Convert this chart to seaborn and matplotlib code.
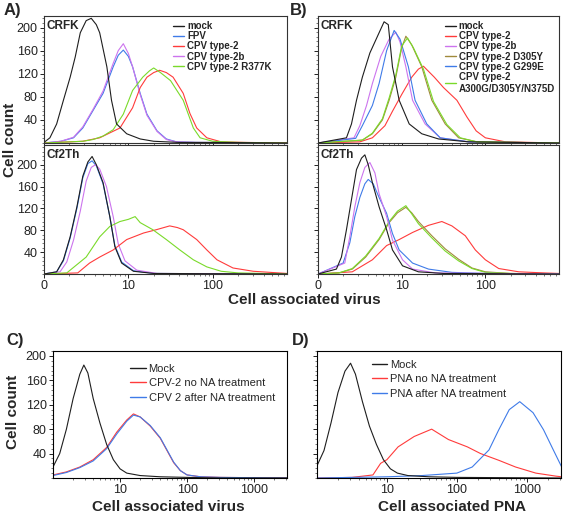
import numpy as np
import pandas as pd
import matplotlib
matplotlib.use("Agg")
import matplotlib.pyplot as plt
from matplotlib.lines import Line2D
from matplotlib.ticker import FixedLocator, NullFormatter, MultipleLocator, LogLocator
from matplotlib import font_manager
import seaborn as sns

sns.set_theme(style="white")
plt.rcParams['font.family'] = ['Liberation Sans', 'DejaVu Sans']

_names = {f.name for f in font_manager.fontManager.ttflist}
NARROW = ['Liberation Sans Narrow', 'Liberation Sans', 'DejaVu Sans'] if 'Liberation Sans Narrow' in _names \
    else ['Liberation Sans', 'DejaVu Sans']
NARROW_SIZE = 9 if 'Liberation Sans Narrow' in _names else 8

# ---------------- colours ----------------
BLACK = "#1e1e1e"
BLUE = "#3f7be8"
RED = "#ff3b3b"
VIOLET = "#cc74ee"
GREEN = "#7ada2a"
OLIVE = "#a08a3c"

# ---------------- data: x given as log10 position, y as cell count ----------------
# Panel A, CRFK
a1_mock_L = [0, 0.07, 0.15, 0.23, 0.31, 0.37, 0.43, 0.5, 0.56, 0.62, 0.66, 0.745, 0.8, 0.86, 0.98, 1.14, 1.3, 1.6, 2.0, 2.88]
a1_mock_n = [1, 9, 33, 74, 114, 149, 191, 212, 216, 205, 191, 132, 74, 33, 16, 7, 3, 1, 1, 0]
a1_fpv_L = [0, 0.2, 0.35, 0.46, 0.58, 0.70, 0.82, 0.88, 0.94, 1.0, 1.05, 1.14, 1.22, 1.34, 1.45, 1.57, 1.8, 2.88]
a1_fpv_n = [0, 3, 9, 26, 56, 86, 132, 152, 161, 150, 132, 86, 50, 21, 7, 2, 1, 0]
a1_t2b_L = a1_fpv_L
a1_t2b_n = [0, 3, 10, 28, 58, 90, 138, 160, 172, 155, 132, 84, 48, 20, 6, 2, 1, 0]
a1_t2_L = [0, 0.46, 0.66, 0.9, 1.05, 1.14, 1.22, 1.3, 1.37, 1.45, 1.53, 1.65, 1.73, 1.81, 1.93, 2.1, 2.4, 2.88]
a1_t2_n = [0, 3, 9, 26, 61, 96, 114, 122, 126, 122, 114, 86, 51, 26, 9, 2, 1, 0]
a1_r377k_L = [0, 0.46, 0.58, 0.7, 0.82, 0.94, 1.05, 1.17, 1.25, 1.3, 1.38, 1.5, 1.65, 1.77, 1.85, 2.0, 2.3, 2.88]
a1_r377k_n = [0, 3, 6, 12, 23, 50, 91, 114, 125, 130, 122, 108, 74, 26, 9, 3, 1, 0]

# Panel A, Cf2Th
a2_mock_L = [0, 0.15, 0.23, 0.31, 0.39, 0.46, 0.52, 0.57, 0.62, 0.70, 0.78, 0.84, 0.92, 1.06, 1.3, 2.88]
a2_mock_n = [0, 4, 26, 68, 123, 179, 205, 215, 200, 167, 105, 50, 20, 5, 1, 0]
a2_fpv_L = a2_mock_L
a2_fpv_n = [0, 4, 24, 66, 120, 176, 202, 207, 198, 165, 105, 52, 22, 6, 1, 0]
a2_t2b_L = [0, 0.19, 0.27, 0.35, 0.43, 0.50, 0.56, 0.61, 0.66, 0.74, 0.82, 0.88, 0.96, 1.10, 1.34, 2.88]
a2_t2b_n = [0, 4, 22, 62, 115, 170, 195, 200, 192, 160, 105, 55, 24, 7, 1, 0]
a2_r377k_L = [0, 0.27, 0.5, 0.66, 0.78, 0.9, 1.0, 1.08, 1.14, 1.29, 1.45, 1.61, 1.77, 1.93, 2.1, 2.3, 2.88]
a2_r377k_n = [0, 2, 31, 68, 87, 96, 100, 105, 94, 81, 63, 44, 26, 13, 5, 2, 0]
a2_t2_L = [0, 0.4, 0.54, 0.66, 0.82, 0.98, 1.18, 1.33, 1.49, 1.58, 1.65, 1.81, 1.93, 2.05, 2.24, 2.48, 2.88]
a2_t2_n = [0, 2, 20, 31, 44, 63, 75, 81, 88, 85, 81, 63, 44, 26, 11, 5, 1]

# Panel B, CRFK
b1_mock_L = [0, 0.34, 0.40, 0.46, 0.53, 0.62, 0.73, 0.79, 0.84, 0.89, 0.97, 1.09, 1.24, 1.44, 1.8, 2.88]
b1_mock_n = [0, 9, 33, 74, 114, 156, 191, 210, 205, 132, 74, 33, 16, 7, 2, 0]
b1_t2_L = [0, 0.5, 0.65, 0.8, 0.89, 1.0, 1.12, 1.2, 1.26, 1.39, 1.5, 1.66, 1.78, 1.89, 2.0, 2.24, 2.88]
b1_t2_n = [0, 2, 9, 30, 55, 84, 114, 128, 133, 114, 96, 74, 45, 21, 9, 2, 0]
b1_t2b_L = [0, 0.43, 0.5, 0.58, 0.65, 0.75, 0.85, 0.93, 0.98, 1.05, 1.13, 1.28, 1.46, 1.8, 2.88]
b1_t2b_n = [0, 9, 30, 65, 103, 150, 180, 192, 175, 132, 74, 33, 9, 2, 0]
b1_d305y_L = [0, 0.53, 0.65, 0.77, 0.85, 0.93, 1.0, 1.05, 1.12, 1.24, 1.36, 1.52, 1.68, 1.9, 2.88]
b1_d305y_n = [0, 5, 16, 40, 74, 114, 165, 185, 170, 132, 74, 33, 9, 2, 0]
b1_g299e_L = [0, 0.45, 0.53, 0.65, 0.73, 0.82, 0.91, 0.98, 1.08, 1.16, 1.3, 1.46, 1.8, 2.88]
b1_g299e_n = [0, 8, 30, 65, 103, 160, 195, 180, 132, 74, 33, 9, 2, 0]
b1_a300g_L = [0, 0.53, 0.65, 0.77, 0.85, 0.93, 1.0, 1.07, 1.14, 1.26, 1.38, 1.54, 1.7, 1.9, 2.88]
b1_a300g_n = [0, 5, 17, 42, 78, 118, 168, 182, 165, 128, 72, 32, 9, 2, 0]

# Panel B, Cf2Th
b2_mock_L = [0, 0.22, 0.28, 0.34, 0.40, 0.46, 0.52, 0.56, 0.60, 0.65, 0.73, 0.82, 0.89, 1.01, 1.2, 1.5, 2.88]
b2_mock_n = [0, 9, 31, 81, 136, 191, 212, 218, 200, 167, 123, 81, 44, 15, 4, 1, 0]
b2_t2_L = [0, 0.41, 0.65, 0.82, 0.97, 1.13, 1.32, 1.48, 1.6, 1.76, 1.88, 2.0, 2.16, 2.4, 2.7, 2.88]
b2_t2_n = [0, 4, 26, 52, 63, 76, 89, 96, 88, 70, 44, 26, 10, 4, 2, 1]
b2_t2b_L = [0, 0.32, 0.38, 0.44, 0.5, 0.56, 0.62, 0.68, 0.73, 0.82, 0.89, 1.01, 1.13, 1.4, 2.88]
b2_t2b_n = [0, 20, 68, 123, 167, 195, 204, 185, 147, 105, 62, 26, 9, 2, 0]
b2_d305y_L = [0, 0.25, 0.41, 0.57, 0.73, 0.85, 0.95, 1.05, 1.12, 1.2, 1.36, 1.52, 1.68, 1.84, 2.0, 2.3, 2.88]
b2_d305y_n = [0, 2, 9, 31, 63, 94, 112, 122, 112, 96, 70, 46, 27, 11, 4, 1, 0]
b2_g299e_L = [0, 0.3, 0.38, 0.44, 0.5, 0.56, 0.6, 0.66, 0.73, 0.82, 0.89, 0.97, 1.13, 1.32, 1.6, 2.0, 2.88]
b2_g299e_n = [0, 20, 57, 105, 140, 165, 173, 165, 140, 111, 74, 44, 20, 9, 3, 1, 0]
b2_a300g_L = b2_d305y_L
b2_a300g_n = [0, 2, 10, 33, 65, 96, 115, 125, 110, 92, 66, 42, 24, 10, 3, 1, 0]

# Panel C
c_mock_L = [0, 0.1, 0.2, 0.3, 0.4, 0.46, 0.52, 0.6, 0.7, 0.8, 0.9, 1.0, 1.1, 1.3, 1.6, 2.0, 2.5, 3.5]
c_mock_n = [18, 40, 80, 130, 170, 185, 172, 130, 90, 55, 30, 15, 8, 4, 2, 1, 0, 0]
c_nona_L = [0, 0.2, 0.4, 0.6, 0.8, 0.95, 1.1, 1.2, 1.3, 1.45, 1.6, 1.7, 1.8, 1.9, 2.0, 2.2, 2.5, 3.5]
c_nona_n = [5, 10, 18, 30, 50, 75, 95, 105, 100, 85, 65, 45, 25, 12, 5, 2, 1, 0]
c_na_L = c_nona_L
c_na_n = [4, 9, 17, 28, 48, 72, 93, 103, 100, 86, 66, 46, 26, 12, 5, 2, 1, 0]

# Panel D
d_mock_L = [0, 0.1, 0.2, 0.3, 0.4, 0.48, 0.55, 0.65, 0.75, 0.85, 0.95, 1.05, 1.15, 1.3, 1.6, 2.0, 3.5]
d_mock_n = [20, 45, 90, 140, 175, 188, 170, 125, 85, 55, 30, 15, 8, 4, 2, 1, 0]
d_nona_L = [0, 0.5, 0.8, 0.91, 1.0, 1.16, 1.39, 1.64, 1.88, 2.15, 2.34, 2.6, 2.84, 3.13, 3.42, 3.5]
d_nona_n = [0, 1, 5, 24, 30, 51, 68, 80, 63, 51, 40, 29, 18, 8, 3, 2]
d_na_L = [0, 1.0, 1.5, 2.0, 2.22, 2.46, 2.6, 2.75, 2.9, 3.09, 3.24, 3.38, 3.5]
d_na_n = [0, 2, 4, 8, 18, 46, 79, 112, 125, 107, 79, 46, 18]

# tick labels
ab_xticks = [1, 10, 100]
ab_xticklabels = ["0", "10", "100"]
cd_xticks = [10, 100, 1000]
cd_xticklabels = ["10", "100", "1000"]
yticks = [40, 80, 120, 160, 200]

# ---------------- figure ----------------
W, H = 563, 517
fig = plt.figure(figsize=(W / 100, H / 100), dpi=100)


def box(l, t, r, b):
    return [l / W, 1 - b / H, (r - l) / W, (b - t) / H]


def draw(ax, curves, xmax, ymax, lw=0.8):
    rows = []
    for name, L, n, col in curves:
        for li, ni in zip(L, n):
            rows.append({"x": 10 ** li, "count": ni, "series": name})
    df = pd.DataFrame(rows)
    pal = {name: col for name, L, n, col in curves}
    sns.lineplot(data=df, x="x", y="count", hue="series", palette=pal,
                 hue_order=[c[0] for c in curves], sort=False, estimator=None,
                 legend=False, lw=lw, ax=ax)
    ax.set_xscale("log")
    ax.set_xlim(1, xmax)
    ax.set_ylim(0, ymax)
    ax.set_xlabel("")
    ax.set_ylabel("")
    for s in ax.spines.values():
        s.set_color("#333333")
        s.set_linewidth(0.8)
    ax.yaxis.set_major_locator(FixedLocator(yticks))
    ax.yaxis.set_minor_locator(MultipleLocator(8))
    ax.xaxis.set_minor_locator(LogLocator(base=10, subs=np.arange(2, 10)))
    ax.xaxis.set_minor_formatter(NullFormatter())
    ax.tick_params(axis="both", which="major", direction="out", length=3, width=0.7,
                   labelsize=9, pad=1.5, colors="#222222", bottom=True, left=True)
    ax.tick_params(axis="both", which="minor", direction="out", length=1.5, width=0.5,
                   bottom=True, left=True, colors="#444444")


def leg(ax, entries, anchor, fs, bold, spacing, hl=1.2, family=None):
    handles = [Line2D([], [], color=c, lw=1.0) for _, c in entries]
    labels = [t for t, _ in entries]
    prop = {"weight": "bold" if bold else "normal", "size": fs}
    if family:
        prop["family"] = family
    lg = ax.legend(handles, labels, loc="upper left", bbox_to_anchor=anchor,
                   frameon=False, handlelength=hl, handletextpad=0.25,
                   labelspacing=spacing, borderaxespad=0, borderpad=0, prop=prop)
    return lg


XMAX_AB = 10 ** 2.88
XMAX_CD = 10 ** 3.49

# A top
ax = fig.add_axes(box(44, 16, 287, 143))
draw(ax, [("FPV", a1_fpv_L, a1_fpv_n, BLUE),
          ("CPV type-2b", a1_t2b_L, a1_t2b_n, VIOLET),
          ("CPV type-2", a1_t2_L, a1_t2_n, RED),
          ("CPV type-2 R377K", a1_r377k_L, a1_r377k_n, GREEN),
          ("mock", a1_mock_L, a1_mock_n, BLACK)], XMAX_AB, 220)
ax.set_xticks(ab_xticks)
ax.set_xticklabels([])
leg(ax, [("mock", BLACK), ("FPV", BLUE), ("CPV type-2", RED),
         ("CPV type-2b", VIOLET), ("CPV type-2 R377K", GREEN)],
    (0.53, 0.96), 7, True, 0.02)
ax.text(0.012, 0.97, "CRFK", transform=ax.transAxes, ha="left", va="top",
        fontsize=8.5, fontweight="bold")

# A bottom
ax = fig.add_axes(box(44, 145, 287, 274))
draw(ax, [("FPV", a2_fpv_L, a2_fpv_n, BLUE),
          ("CPV type-2b", a2_t2b_L, a2_t2b_n, VIOLET),
          ("CPV type-2", a2_t2_L, a2_t2_n, RED),
          ("CPV type-2 R377K", a2_r377k_L, a2_r377k_n, GREEN),
          ("mock", a2_mock_L, a2_mock_n, BLACK)], XMAX_AB, 236)
ax.set_xticks(ab_xticks)
ax.set_xticklabels(ab_xticklabels)
ax.text(0.012, 0.97, "Cf2Th", transform=ax.transAxes, ha="left", va="top",
        fontsize=8.5, fontweight="bold")

# B top
ax = fig.add_axes(box(318, 16, 559, 143))
draw(ax, [("CPV type-2", b1_t2_L, b1_t2_n, RED),
          ("CPV type-2b", b1_t2b_L, b1_t2b_n, VIOLET),
          ("CPV type-2 G299E", b1_g299e_L, b1_g299e_n, BLUE),
          ("CPV type-2 D305Y", b1_d305y_L, b1_d305y_n, OLIVE),
          ("CPV type-2\nA300G/D305Y/N375D", b1_a300g_L, b1_a300g_n, GREEN),
          ("mock", b1_mock_L, b1_mock_n, BLACK)], XMAX_AB, 220)
ax.set_xticks(ab_xticks)
ax.set_xticklabels([])
ax.set_yticklabels([])
leg(ax, [("mock", BLACK), ("CPV type-2", RED), ("CPV type-2b", VIOLET),
         ("CPV type-2 D305Y", OLIVE), ("CPV type-2 G299E", BLUE),
         ("CPV type-2\nA300G/D305Y/N375D", GREEN)],
    (0.525, 0.96), 7, True, 0.02)
ax.text(0.012, 0.97, "CRFK", transform=ax.transAxes, ha="left", va="top",
        fontsize=8.5, fontweight="bold")

# B bottom
ax = fig.add_axes(box(318, 145, 559, 274))
draw(ax, [("CPV type-2", b2_t2_L, b2_t2_n, RED),
          ("CPV type-2 D305Y", b2_d305y_L, b2_d305y_n, OLIVE),
          ("CPV type-2\nA300G/D305Y/N375D", b2_a300g_L, b2_a300g_n, GREEN),
          ("CPV type-2 G299E", b2_g299e_L, b2_g299e_n, BLUE),
          ("CPV type-2b", b2_t2b_L, b2_t2b_n, VIOLET),
          ("mock", b2_mock_L, b2_mock_n, BLACK)], XMAX_AB, 236)
ax.set_xticks(ab_xticks)
ax.set_xticklabels(ab_xticklabels)
ax.set_yticklabels([])
ax.text(0.012, 0.97, "Cf2Th", transform=ax.transAxes, ha="left", va="top",
        fontsize=8.5, fontweight="bold")

# C
ax = fig.add_axes(box(53, 351, 287, 478))
draw(ax, [("CPV-2 no NA treatment", c_nona_L, c_nona_n, RED),
          ("CPV 2 after NA treatment", c_na_L, c_na_n, BLUE),
          ("Mock", c_mock_L, c_mock_n, BLACK)], XMAX_CD, 208)
ax.set_xticks(cd_xticks)
ax.set_xticklabels(cd_xticklabels)
for s in ax.spines.values():
    s.set_color("black")
leg(ax, [("Mock", BLACK), ("CPV-2 no NA treatment", RED),
         ("CPV 2 after NA treatment", BLUE)],
    (0.33, 0.9), NARROW_SIZE, False, 0.4, hl=1.4, family=NARROW)

# D
ax = fig.add_axes(box(317, 351, 561, 478))
draw(ax, [("PNA no NA treatment", d_nona_L, d_nona_n, RED),
          ("PNA after NA treatment", d_na_L, d_na_n, BLUE),
          ("Mock", d_mock_L, d_mock_n, BLACK)], XMAX_CD, 208)
ax.set_xticks(cd_xticks)
ax.set_xticklabels(cd_xticklabels)
ax.set_yticklabels([])
for s in ax.spines.values():
    s.set_color("black")
leg(ax, [("Mock", BLACK), ("PNA no NA treatment", RED),
         ("PNA after NA treatment", BLUE)],
    (0.225, 0.93), NARROW_SIZE, False, 0.4, hl=1.4, family=NARROW)

# shared texts
fig.text(10 / W, 1 - 140 / H, "Cell count", rotation=90, ha="center", va="center",
         fontsize=11, fontweight="bold")
fig.text(13 / W, 1 - 412 / H, "Cell count", rotation=90, ha="center", va="center",
         fontsize=11, fontweight="bold")
fig.text(304 / W, 1 - 300 / H, "Cell associated virus", ha="center", va="center",
         fontsize=11, fontweight="bold")
fig.text(168 / W, 1 - 507 / H, "Cell associated virus", ha="center", va="center",
         fontsize=11, fontweight="bold")
fig.text(452 / W, 1 - 507 / H, "Cell associated PNA", ha="center", va="center",
         fontsize=11, fontweight="bold")
fig.text(4 / W, 1 - 3 / H, "A)", ha="left", va="top", fontsize=12, fontweight="bold")
fig.text(290 / W, 1 - 3 / H, "B)", ha="left", va="top", fontsize=12, fontweight="bold")
fig.text(6 / W, 1 - 333 / H, "C)", ha="left", va="top", fontsize=12, fontweight="bold")
fig.text(292 / W, 1 - 333 / H, "D)", ha="left", va="top", fontsize=12, fontweight="bold")

fig.savefig("out.png", dpi=100)
